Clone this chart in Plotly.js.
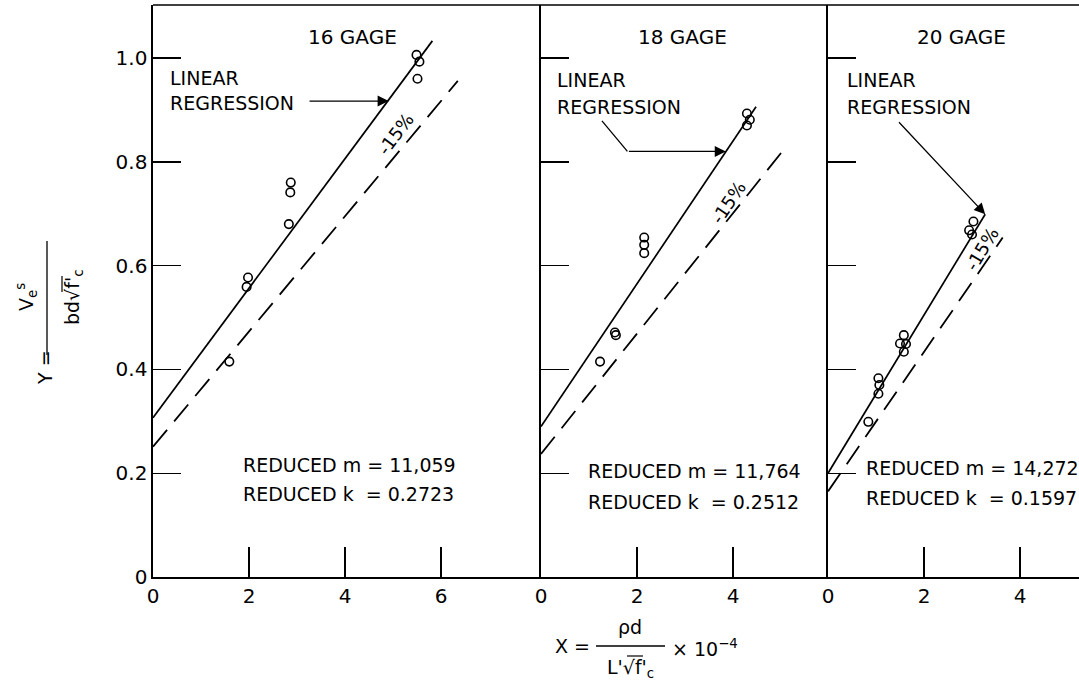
<!DOCTYPE html>
<html><head><meta charset="utf-8">
<script src="https://cdn.plot.ly/plotly-3.0.1.min.js"></script>
<style>html,body{margin:0;padding:0;background:#fff}#chart{width:1079px;height:693px}</style>
</head><body><div id="chart"></div>
<script>
// ---- data ----
// 16 gage
const g16X = [5.49, 5.55, 5.51, 2.87, 2.86, 2.83, 1.98, 1.95, 1.59];
const g16Y = [1.006, 0.993, 0.960, 0.760, 0.741, 0.680, 0.577, 0.559, 0.415];
const reg16X = [0, 5.82], reg16Y = [0.307, 1.033];
const low16X = [0, 6.35], low16Y = [0.251, 0.956];
// 18 gage
const g18X = [4.29, 4.35, 4.29, 2.15, 2.15, 2.15, 1.54, 1.56, 1.23];
const g18Y = [0.893, 0.881, 0.870, 0.654, 0.640, 0.624, 0.471, 0.466, 0.415];
const reg18X = [0, 4.48], reg18Y = [0.290, 0.906];
const low18X = [0, 5.13], low18Y = [0.237, 0.832];
// 20 gage
const g20X = [3.03, 2.94, 3.00, 1.58, 1.50, 1.625, 1.58, 1.05, 1.07, 1.05, 0.84];
const g20Y = [0.685, 0.668, 0.660, 0.466, 0.450, 0.449, 0.434, 0.383, 0.370, 0.353, 0.299];
const reg20X = [0, 3.275], reg20Y = [0.200, 0.699];
const low20X = [0, 3.64], low20Y = [0.165, 0.654];

const panelTitles = ['16 GAGE', '18 GAGE', '20 GAGE'];
const mTexts = ['REDUCED m = 11,059', 'REDUCED m = 11,764', 'REDUCED m = 14,272'];
const kTexts = ['REDUCED k\u00a0\u00a0= 0.2723', 'REDUCED k\u00a0\u00a0= 0.2512', 'REDUCED k\u00a0\u00a0= 0.1597'];
const xTicks1 = [0, 2, 4, 6], xTicks2 = [0, 2, 4], xTicks3 = [0, 2, 4];
const yTickVals = [0, 0.2, 0.4, 0.6, 0.8, 1.0];
const yTickText = ['0', '0.2', '0.4', '0.6', '0.8', '1.0'];

// ---- layout geometry ----
const W = 1079, H = 693, ML = 153, MR = 0, MT = 5, MB = 116;
const PW = W - ML - MR, PH = H - MT - MB;
const pxX = 48, pxY = 519;               // pixels per data unit
const b1 = 541 - ML, b2 = 828 - ML;      // panel boundaries (px from left of plot)
const px = v => (v - ML) / PW;            // page px -> paper x
const py = v => (H - MB - v) / PH;        // page px -> paper y

const black = '#000';
const font = {family: 'DejaVu Sans, sans-serif', size: 19, color: black};
const big = Object.assign({}, font, {size: 20});
const pct = Object.assign({}, font, {size: 18});

function pts(x, y, xa, ya) {
  return {x, y, xaxis: xa, yaxis: ya, type: 'scatter', mode: 'markers',
    marker: {symbol: 'circle-open', size: 8.5, color: black, line: {width: 1.6, color: black}},
    hoverinfo: 'skip', showlegend: false};
}
function line(x, y, xa, ya, dash) {
  return {x, y, xaxis: xa, yaxis: ya, type: 'scatter', mode: 'lines',
    line: {color: black, width: dash ? 1.8 : 1.7, dash: dash ? '22px,11px' : 'solid'},
    hoverinfo: 'skip', showlegend: false};
}
const data = [
  line(reg16X, reg16Y, 'x', 'y', false), line(low16X, low16Y, 'x', 'y', true), pts(g16X, g16Y, 'x', 'y'),
  line(reg18X, reg18Y, 'x2', 'y2', false), line(low18X, low18Y, 'x2', 'y2', true), pts(g18X, g18Y, 'x2', 'y2'),
  line(reg20X, reg20Y, 'x3', 'y3', false), line(low20X, low20Y, 'x3', 'y3', true), pts(g20X, g20Y, 'x3', 'y3')
];

function xa(dom, range, ticks, anchor) {
  return {domain: dom, range, anchor, tickmode: 'array', tickvals: ticks, ticktext: ticks.map(String),
    ticks: 'inside', ticklen: 30, tickwidth: 1.4, tickcolor: black,
    showline: true, linewidth: 1.6, linecolor: black, showgrid: false, zeroline: false,
    tickfont: big, fixedrange: true};
}
function ya(anchor, labels) {
  return {domain: [0, 1], range: [0, PH / pxY], anchor, tickmode: 'array', tickvals: yTickVals, ticktext: yTickText,
    showticklabels: labels, ticks: 'inside', ticklen: 28, tickwidth: 1.4, tickcolor: black,
    showline: true, linewidth: 1.6, linecolor: black, showgrid: false, zeroline: false,
    tickfont: big, fixedrange: true};
}

function note(xref, yref, x, y, text, o) {
  return Object.assign({xref, yref, x, y, text, showarrow: false, font, xanchor: 'left', yanchor: 'middle'}, o || {});
}
function arrow(xref, yref, x, y, ax, ay) {
  return {xref, yref, x, y, ax, ay, axref: xref, ayref: yref, text: '', showarrow: true,
    arrowhead: 2, arrowsize: 1.7, arrowwidth: 1.3, arrowcolor: black, standoff: 0};
}

const annotations = [
  // panel titles
  note('x', 'y', 4.15, 1.040, panelTitles[0], {xanchor: 'center', font: big}),
  note('x2', 'y2', 2.94, 1.040, panelTitles[1], {xanchor: 'center', font: big}),
  note('x3', 'y3', 2.79, 1.040, panelTitles[2], {xanchor: 'center', font: big}),
  // LINEAR REGRESSION labels
  note('x', 'y', 0.31, 0.961, 'LINEAR'), note('x', 'y', 0.31, 0.913, 'REGRESSION'),
  note('x2', 'y2', 0.29, 0.958, 'LINEAR'), note('x2', 'y2', 0.29, 0.906, 'REGRESSION'),
  note('x3', 'y3', 0.35, 0.958, 'LINEAR'), note('x3', 'y3', 0.35, 0.906, 'REGRESSION'),
  // arrows
  arrow('x', 'y', 4.91, 0.917, 3.23, 0.917),
  arrow('x2', 'y2', 3.85, 0.820, 1.80, 0.820),
  arrow('x3', 'y3', 3.275, 0.699, 1.45, 0.879),
  // -15% labels
  note('x', 'y', 5.06, 0.855, '-15%', {xanchor: 'center', textangle: -53, font: pct}),
  note('x2', 'y2', 3.90, 0.722, '-15%', {xanchor: 'center', textangle: -56, font: pct}),
  note('x3', 'y3', 3.22, 0.632, '-15%', {xanchor: 'center', textangle: -59, font: pct}),
  // reduced m, k
  note('x', 'y', 1.83, 0.216, mTexts[0]), note('x', 'y', 1.83, 0.160, kTexts[0]),
  note('x2', 'y2', 0.94, 0.204, mTexts[1]), note('x2', 'y2', 0.94, 0.145, kTexts[1]),
  note('x3', 'y3', 0.76, 0.210, mTexts[2]), note('x3', 'y3', 0.76, 0.152, kTexts[2]),
  // x-axis title pieces
  note('paper', 'paper', px(572), py(646), 'X =', {xanchor: 'center'}),
  note('paper', 'paper', px(630), py(627), '\u03c1d', {xanchor: 'center'}),
  note('paper', 'paper', px(630), py(668), "L'\u221af'<sub>c</sub>", {xanchor: 'center'}),
  note('paper', 'paper', px(670), py(648), '\u00d7 10<sup>\u22124</sup>', {xanchor: 'left'}),
  // y-axis title pieces (rotated)
  note('paper', 'paper', px(45), py(368), 'Y =', {xanchor: 'center', textangle: -90}),
  note('paper', 'paper', px(27), py(297), 'V<sub>e</sub><sup>s</sup>', {xanchor: 'center', textangle: -90}),
  note('paper', 'paper', px(73), py(298), "bd\u221af'<sub>c</sub>", {xanchor: 'center', textangle: -90})
];

const thin = {color: black, width: 1.2};
const shapes = [
  {type: 'line', xref: 'paper', yref: 'paper', x0: 0, x1: 1, y0: 1, y1: 1, line: {color: black, width: 1.6}},
  // fraction bars
  {type: 'line', xref: 'paper', yref: 'paper', x0: px(596), x1: px(665), y0: py(646), y1: py(646), line: {color: black, width: 1.3}},
  {type: 'line', xref: 'paper', yref: 'paper', x0: px(47), x1: px(47), y0: py(241), y1: py(355), line: {color: black, width: 1.3}},
  // radical overlines
  {type: 'line', xref: 'paper', yref: 'paper', x0: px(627), x1: px(643), y0: py(656), y1: py(656), line: thin},
  {type: 'line', xref: 'paper', yref: 'paper', x0: px(62), x1: px(62), y0: py(292), y1: py(276), line: thin},
  // bent leader of 18 gage arrow
  {type: 'line', xref: 'x2', yref: 'y2', x0: 1.27, y0: 0.879, x1: 1.80, y1: 0.820, line: {color: black, width: 1.3}}
];

const layout = {
  width: W, height: H, margin: {l: ML, r: MR, t: MT, b: MB, pad: 0},
  paper_bgcolor: '#fff', plot_bgcolor: '#fff', font, showlegend: false,
  xaxis: xa([0, b1 / PW], [0, b1 / pxX], xTicks1, 'y'),
  xaxis2: xa([b1 / PW, b2 / PW], [0, (b2 - b1) / pxX], xTicks2, 'y2'),
  xaxis3: xa([b2 / PW, 1], [0, (PW - b2) / pxX], xTicks3, 'y3'),
  yaxis: ya('x', true), yaxis2: ya('x2', false), yaxis3: ya('x3', false),
  annotations, shapes
};
Plotly.newPlot('chart', data, layout, {displayModeBar: false, staticPlot: true});
</script></body></html>
